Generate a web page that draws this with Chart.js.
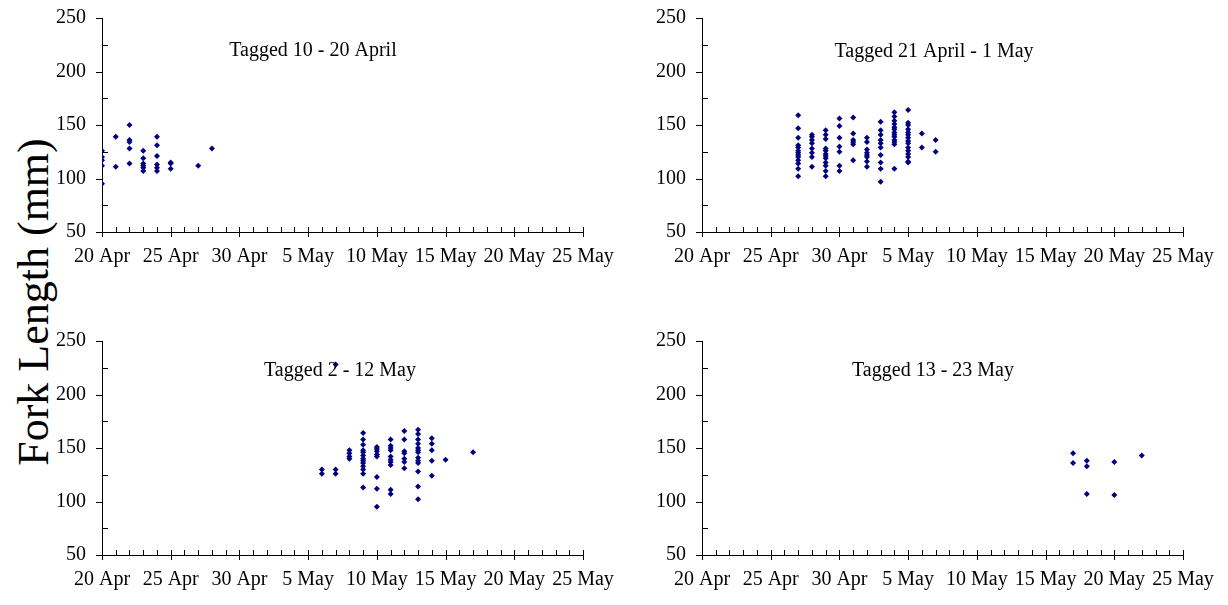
<!DOCTYPE html>
<html><head><meta charset="utf-8">
<script src="https://cdn.jsdelivr.net/npm/chart.js@4/dist/chart.umd.min.js"></script>
<style>
html,body{margin:0;padding:0;background:#fff;width:1228px;height:605px;overflow:hidden;position:relative;}
.box{position:absolute;width:583px;height:282px;}
#ytitle{position:absolute;left:33px;top:302px;transform:translate(-50%,-50%) rotate(-90deg);font:44px "Liberation Serif","Times New Roman",serif;white-space:nowrap;color:#000;}
</style></head><body>
<div id="ytitle">Fork Length (mm)</div>
<div class="box" style="left:50px;top:-10px"><canvas id="c1"></canvas></div>
<div class="box" style="left:650px;top:-10px"><canvas id="c2"></canvas></div>
<div class="box" style="left:50px;top:313px"><canvas id="c3"></canvas></div>
<div class="box" style="left:650px;top:313px"><canvas id="c4"></canvas></div>
<script>
// x values: days after 20 April
const xTickLabels = ['20 Apr','25 Apr','30 Apr','5 May','10 May','15 May','20 May','25 May'];
const panelTitles = ['Tagged 10 - 20 April','Tagged 21 April - 1 May','Tagged 2 - 12 May','Tagged 13 - 23 May'];

const p1Days = [0,0,0,0,0, 1,1, 2,2,2,2,2, 3,3,3,3,3,3, 4,4,4,4,4,4, 5,5,5, 7, 8];
const p1Lengths = [126,120,117,112,95, 139,111, 150,136,134,128,114, 126,119,114,112,110,107, 139,131,121,113,110,107, 115,114,109, 112, 128];

const p2Days = [
 7,7,7,7,7,7,7,7,7,7,7,7,7,
 8,8,8,8,8,8,8,8,
 9,9,9,9,9,9,9,9,9,9,9,9,
 10,10,10,10,10,10,10,
 11,11,11,11,11,11,
 12,12,12,12,12,12,12,12,
 13,13,13,13,13,13,13,13,13,13,
 14,14,14,14,14,14,14,14,14,14,14,14,14,
 15,15,15,15,15,15,15,15,15,15,15,15,15,15,15,
 16,16,
 17,17];
const p2Lengths = [
 159,147,138,131,129,126,124,122,120,117,114,109,102,
 141,139,136,133,128,124,120,111,
 145,141,137,128,126,123,121,119,115,112,107,102,
 156,149,138,130,125,112,107,
 157,142,136,134,132,117,
 138,134,127,124,122,120,116,111,
 153,145,141,136,133,129,122,115,109,97,
 162,158,154,151,148,146,143,141,139,136,134,132,109,
 164,152,150,146,143,141,138,135,133,129,126,123,120,116,115,
 142,129,
 136,125];

const p3Days = [
 16,16,
 17,17,17,
 18,18,18,18,
 19,19,19,19,19,19,19,19,19,19,19,19,19,
 20,20,20,20,20,20,20,20,
 21,21,21,21,21,21,21,21,21,21,
 22,22,22,22,22,22,22,
 23,23,23,23,23,23,23,23,23,23,23,23,23,
 24,24,24,24,24,
 25,
 27];
const p3Lengths = [
 130,126,
 130,126,228,
 148,145,142,140,
 164,158,153,148,146,143,140,138,136,133,130,126,113,
 151,149,147,144,142,123,112,95,
 158,152,150,148,142,139,137,134,111,107,
 166,158,147,145,140,137,131,
 167,163,158,154,150,148,146,141,138,136,128,114,102,
 159,154,148,138,124,
 139,
 146];

const p4Days = [27,27, 28,28,28, 30,30, 32];
const p4Lengths = [145,136, 138,133,107, 137,106, 143];

const FONT = '"Liberation Serif","Times New Roman",serif';

const excelAxes = {
  id: 'excelAxes',
  afterDraw(chart, args, opts) {
    const ctx = chart.ctx, xs = chart.scales.x, ys = chart.scales.y, a = chart.chartArea;
    ctx.save();
    ctx.strokeStyle = '#000';
    ctx.lineWidth = 1;
    ctx.beginPath();
    for (let d = xs.min; d <= xs.max; d += 1) {
      const px = Math.round(xs.getPixelForValue(d)) + 0.5;
      const major = d % 5 === 0;
      ctx.moveTo(px, a.bottom - 5);
      ctx.lineTo(px, a.bottom + (major ? 5 : 0));
    }
    for (let v = ys.min; v <= ys.max; v += 25) {
      const py = Math.round(ys.getPixelForValue(v)) + 0.5;
      if (v % 50 === 0) { ctx.moveTo(a.left - 6, py); ctx.lineTo(a.left, py); }
      else { ctx.moveTo(a.left, py); ctx.lineTo(a.left + 6, py); }
    }
    ctx.stroke();
    ctx.fillStyle = '#000';
    ctx.font = '20px ' + FONT;
    ctx.textAlign = 'center';
    ctx.textBaseline = 'alphabetic';
    ctx.fillText(opts.text, a.left + opts.dx, a.top + opts.dy);
    ctx.restore();
  }
};

function makeChart(id, days, lengths, title, dx, dy) {
  const pts = days.map((d, i) => ({x: d, y: lengths[i]}));
  return new Chart(document.getElementById(id), {
    type: 'scatter',
    data: { datasets: [{ data: pts, pointStyle: 'rectRot', pointRadius: 3, pointBorderWidth: 0,
      backgroundColor: '#000080', borderColor: '#000080' }] },
    options: {
      responsive: true, maintainAspectRatio: false, animation: false,
      layout: { padding: { top: 0, right: 50, left: 0, bottom: 0 } },
      plugins: { legend: { display: false }, tooltip: { enabled: false },
        excelAxes: { text: title, dx: dx, dy: dy } },
      scales: {
        x: { type: 'linear', min: 0, max: 35,
          afterFit(s) { s.height = 40; },
          grid: { display: false, drawTicks: false },
          border: { display: true, color: '#000', width: 1 },
          ticks: { stepSize: 5, autoSkip: false, maxRotation: 0, padding: 13, color: '#000',
            font: { family: FONT, size: 20 },
            callback: (v) => xTickLabels[Math.round(v / 5)] } },
        y: { min: 50, max: 250,
          afterFit(s) { s.width = 52; },
          grid: { display: false, drawTicks: false },
          border: { display: true, color: '#000', width: 1 },
          ticks: { stepSize: 50, padding: 16, color: '#000', font: { family: FONT, size: 20 } } }
      }
    },
    plugins: [excelAxes]
  });
}

makeChart('c1', p1Days, p1Lengths, panelTitles[0], 211, 38);
makeChart('c2', p2Days, p2Lengths, panelTitles[1], 232, 39);
makeChart('c3', p3Days, p3Lengths, panelTitles[2], 238, 35);
makeChart('c4', p4Days, p4Lengths, panelTitles[3], 231, 35);
</script>
</body></html>
